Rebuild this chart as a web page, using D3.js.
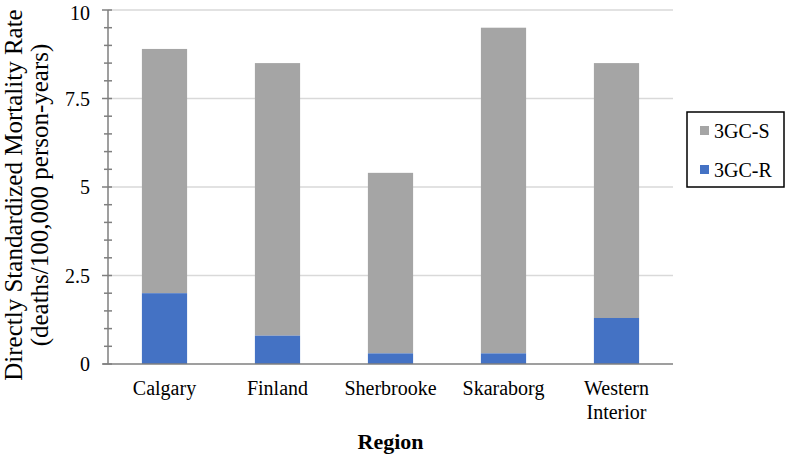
<!DOCTYPE html>
<html><head><meta charset="utf-8">
<script src="https://cdn.jsdelivr.net/npm/d3@7"></script>
<style>body{margin:0;background:#fff}svg{display:block}</style>
</head><body><svg id="c" width="787" height="459" font-family="'Liberation Serif', 'DejaVu Serif', serif"></svg>
<script>
const regions = [["Calgary"],["Finland"],["Sherbrooke"],["Skaraborg"],["Western","Interior"]];
const regionKeys = ["Calgary","Finland","Sherbrooke","Skaraborg","Western Interior"];
const resistant = [2.0, 0.8, 0.3, 0.3, 1.3];   // 3GC-R
const susceptible = [6.9, 7.7, 5.1, 9.2, 7.2]; // 3GC-S (stacked on top)
const yTicks = [0, 2.5, 5, 7.5, 10];
const yTickLabels = ["0","2.5","5","7.5","10"];
const seriesNames = ["3GC-S","3GC-R"];

const svg = d3.select("#c");
const m = {l:108, r:673, t:10, b:364};
const x = d3.scaleBand().domain(regionKeys).range([m.l, m.r]).paddingInner(0.6).paddingOuter(0.3);
const y = d3.scaleLinear().domain([0,10]).range([m.b, m.t]);

svg.append("g").selectAll("line").data(yTicks.slice(1)).join("line")
  .attr("x1", m.l).attr("x2", m.r).attr("y1", d=>y(d)).attr("y2", d=>y(d))
  .attr("stroke", "#d9d9d9").attr("stroke-width", 1.3);

const data = regionKeys.map((k,i)=>({k, r:resistant[i], s:susceptible[i]}));
svg.append("g").selectAll("rect").data(data).join("rect")
  .attr("x", d=>x(d.k)).attr("width", x.bandwidth())
  .attr("y", d=>y(d.r+d.s)).attr("height", d=>y(d.r)-y(d.r+d.s)).attr("fill","#a5a5a5");
svg.append("g").selectAll("rect").data(data).join("rect")
  .attr("x", d=>x(d.k)).attr("width", x.bandwidth())
  .attr("y", d=>y(d.r)).attr("height", d=>y(0)-y(d.r)).attr("fill","#4472c4");

const ax = svg.append("g").attr("stroke","#7f7f7f").attr("stroke-width",1.5);
ax.append("line").attr("x1",m.l).attr("x2",m.l).attr("y1",y(10)).attr("y2",y(0));
ax.append("line").attr("x1",m.l-5).attr("x2",m.r).attr("y1",y(0)).attr("y2",y(0));
const minor = d3.range(0, 10.01, 0.5);
ax.selectAll("line.t").data(minor).join("line").attr("class","t")
  .attr("x1", d=> (d%2.5===0)? m.l-6 : m.l-4).attr("x2", m.l+4)
  .attr("y1", d=>y(d)).attr("y2", d=>y(d));
svg.append("g").selectAll("text").data(yTicks).join("text")
  .attr("x", m.l-18).attr("y", d=>Math.max(y(d), 13)).attr("dy","0.35em")
  .attr("text-anchor","end").attr("font-size",20).text((d,i)=>yTickLabels[i]);

const cl = svg.append("g").selectAll("text").data(regions).join("text")
  .attr("text-anchor","middle").attr("font-size",20)
  .attr("transform",(d,i)=>`translate(${x(regionKeys[i])+x.bandwidth()/2},395)`);
cl.selectAll("tspan").data(d=>d).join("tspan").attr("x",0).attr("dy",(d,i)=>i?24:0).text(d=>d);

svg.append("text").attr("x",(m.l+m.r)/2).attr("y",449).attr("text-anchor","middle")
  .attr("font-size",22).attr("font-weight","bold").text("Region");
const yt = svg.append("text").attr("transform",`translate(22,195) rotate(-90)`).attr("text-anchor","middle").attr("font-size",25);
yt.append("tspan").attr("x",0).attr("dy",0).text("Directly Standardized Mortality Rate");
yt.append("tspan").attr("x",0).attr("dy",26).text("(deaths/100,000 person-years)");

const lg = svg.append("g");
lg.append("rect").attr("x",687).attr("y",112).attr("width",97).attr("height",75)
  .attr("fill","#fff").attr("stroke","#000").attr("stroke-width",1.5);
const colors = ["#a5a5a5","#4472c4"];
seriesNames.forEach((n,i)=>{
  lg.append("rect").attr("x",700).attr("y",126+i*39).attr("width",9).attr("height",9).attr("fill",colors[i]);
  lg.append("text").attr("x",714).attr("y",130.5+i*39).attr("dy","0.35em").attr("font-size",20).text(n);
});
</script></body></html>
